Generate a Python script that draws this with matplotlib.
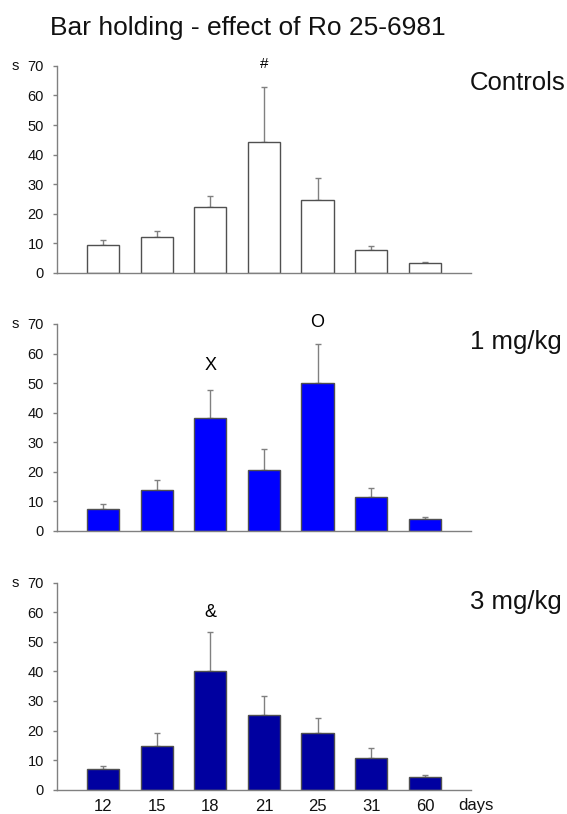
import matplotlib.pyplot as plt
import numpy as np

plt.rcParams['font.family'] = ['Liberation Sans', 'DejaVu Sans']

days = ['12', '15', '18', '21', '25', '31', '60']

ctrl_mean = [9.4, 12.2, 22.3, 44.3, 24.7, 7.6, 3.2]
ctrl_sem = [1.6, 2.0, 3.7, 18.5, 7.3, 1.4, 0.5]

mg1_mean = [7.5, 13.9, 38.1, 20.6, 50.1, 11.4, 4.0]
mg1_sem = [1.7, 3.4, 9.5, 7.2, 13.2, 3.2, 0.6]

mg3_mean = [6.8, 14.8, 40.1, 25.1, 19.3, 10.7, 4.2]
mg3_sem = [1.3, 4.2, 13.3, 6.6, 5.1, 3.5, 0.9]

grey = '#808080'

fig = plt.figure(figsize=(5.67, 8.14), dpi=100)
fig.text(0.088, 0.966, 'Bar holding - effect of Ro 25-6981', fontsize=19,
         ha='left', va='center', color='#111111')

panels = [
    (0.665, ctrl_mean, ctrl_sem, 'white', 'Controls', 0.898),
    (0.348, mg1_mean, mg1_sem, '#0000FF', '1 mg/kg', 0.580),
    (0.030, mg3_mean, mg3_sem, '#0000A0', '3 mg/kg', 0.261),
]

x = np.arange(len(days))
axes = []
for bottom, mean, sem, color, label, ly in panels:
    ax = fig.add_axes([0.1005, bottom, 0.730, 0.254])
    ax.bar(x, mean, width=0.6, color=color, edgecolor='#505050', linewidth=1, zorder=2)
    ax.errorbar(x, mean, yerr=[np.zeros(len(sem)), sem], fmt='none',
                ecolor=grey, elinewidth=1, capsize=2.2, capthick=1, zorder=1)
    ax.set_xlim(-0.857, 6.857)
    ax.set_ylim(0, 70)
    ax.set_yticks(range(0, 71, 10))
    ax.set_xticks(x)
    ax.set_xticklabels([])
    for side in ['top', 'right']:
        ax.spines[side].set_visible(False)
    for side in ['left', 'bottom']:
        ax.spines[side].set_color(grey)
        ax.spines[side].set_linewidth(1)
    ax.tick_params(axis='y', direction='out', length=3, width=1, color=grey,
                   labelsize=10.5, pad=6.5, labelcolor='#111111')
    ax.tick_params(axis='x', length=0, labelsize=12, pad=7, labelcolor='#111111')
    ax.text(-0.101, 70, 's', transform=ax.get_yaxis_transform(), fontsize=10.5,
            ha='center', va='center', color='#111111')
    fig.text(0.829, ly, label, fontsize=18.5, ha='left', va='center', color='#111111')
    axes.append(ax)

ax1, ax2, ax3 = axes
ax3.set_xticklabels(days)
ax3.text(6.62, -5.3, 'days', fontsize=12, ha='left', va='center', color='#111111',
         clip_on=False)

# significance markers
ax1.text(3, 70.6, '#', fontsize=11, ha='center', va='center', clip_on=False)
ax2.text(2, 56, 'X', fontsize=13, ha='center', va='center')
ax2.text(4, 70.5, 'O', fontsize=13, ha='center', va='center', clip_on=False)
ax3.text(2, 59.8, '&', fontsize=13, ha='center', va='center')

fig.savefig('out.png', dpi=100, facecolor='white')
